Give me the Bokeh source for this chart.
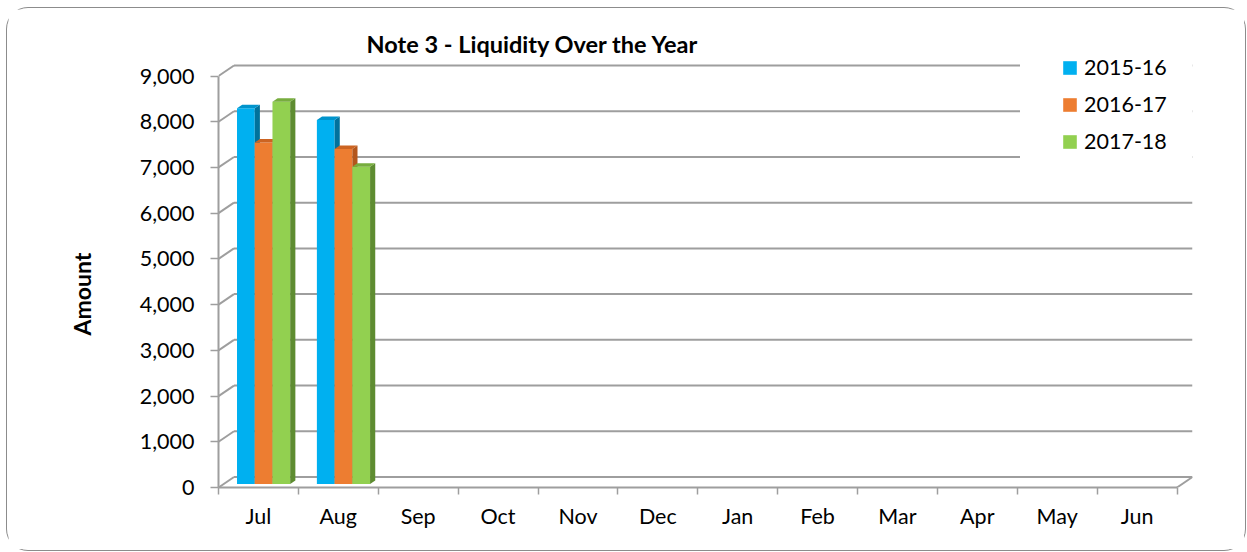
import math
from bokeh.plotting import figure
from bokeh.models import (Range1d, FixedTicker, NumeralTickFormatter, Legend,
                          LegendItem, Title, Label)
from bokeh.embed import file_html
from bokeh.resources import INLINE

# ---------------- data ----------------
months = ["Jul", "Aug", "Sep", "Oct", "Nov", "Dec",
          "Jan", "Feb", "Mar", "Apr", "May", "Jun"]
series_names = ["2015-16", "2016-17", "2017-18"]
fy_2015_16 = [8220, 7960]
fy_2016_17 = [7470, 7330]
fy_2017_18 = [8360, 6940]
y_ticks = [0, 1000, 2000, 3000, 4000, 5000, 6000, 7000, 8000, 9000]

title_text = "Note 3 - Liquidity Over the Year"
y_title = "Amount"

# ---------------- style ----------------
front_colors = ["#00B0F0", "#ED7D31", "#92D050"]
side_colors = ["#00729C", "#B3561C", "#5E8C31"]
top_colors = ["#0094CC", "#CC6422", "#77AD3E"]
GRID = "#9E9E9E"
FONT = "Lato"

DEPTH_X = 0.194      # 3-D depth of the back wall, category units
DEPTH_Y = 230        # 3-D depth of the back wall, value units
BAR_W = 0.222
N = len(months)
X_END = N + DEPTH_X
Y_END = 10346        # room above the wall for title and legend
TITLE_POS = (1.853, 9690)

p = figure(width=1236, height=540, title=None,
           x_range=Range1d(0, X_END), y_range=Range1d(0, Y_END),
           output_backend="svg", toolbar_location=None,
           min_border_left=210, min_border_right=52,
           min_border_top=5, min_border_bottom=62)
p.background_fill_color = "white"
p.border_fill_color = "white"
p.outline_line_color = None
p.xgrid.visible = False
p.ygrid.visible = False
p.styles = {"margin-left": "8px", "margin-top": "9px",
            "outline": "1.5px solid #8c8c8c", "outline-offset": "1.5px",
            "border-radius": "20px"}

# ---------------- back wall / floor ----------------
gx0, gy0, gx1, gy1 = [], [], [], []
for v in y_ticks:
    # gridline on the back wall
    gx0.append(DEPTH_X); gy0.append(v + DEPTH_Y)
    gx1.append(X_END); gy1.append(v + DEPTH_Y)
    # diagonal from the front axis to the back wall
    gx0.append(0); gy0.append(v)
    gx1.append(DEPTH_X); gy1.append(v + DEPTH_Y)
# right floor edge
gx0.append(N); gy0.append(0)
gx1.append(X_END); gy1.append(DEPTH_Y)
p.segment(x0=gx0, y0=gy0, x1=gx1, y1=gy1, line_color=GRID, line_width=2)

# ---------------- bars ----------------
all_series = [fy_2015_16, fy_2016_17, fy_2017_18]
dx = DEPTH_X / 3.0
dy = DEPTH_Y / 3.0
legend_items = []
for k, vals in enumerate(all_series):
    xc = [i + 0.5 + dx + (k - 1) * BAR_W for i in range(len(vals))]
    bottoms = [dy for _ in vals]
    tops = [v + dy for v in vals]
    r = p.vbar(x=xc, width=BAR_W, bottom=bottoms, top=tops,
               fill_color=front_colors[k], line_color=None)
    legend_items.append(LegendItem(label=series_names[k], renderers=[r]))
    sxs, sys, txs, tys = [], [], [], []
    for x, b, t in zip(xc, bottoms, tops):
        left = x - BAR_W / 2
        right = x + BAR_W / 2
        sxs.append([right, right + dx, right + dx, right])
        sys.append([b, b + dy, t + dy, t])
        txs.append([left, left + dx, right + dx, right])
        tys.append([t, t + dy, t + dy, t])
    p.patches(xs=sxs, ys=sys, fill_color=side_colors[k], line_color=None)
    p.patches(xs=txs, ys=tys, fill_color=top_colors[k], line_color=None)

# ---------------- axes ----------------
xa = p.xaxis[0]
xa.ticker = FixedTicker(ticks=[i + 0.5 for i in range(N)],
                        minor_ticks=list(range(N + 1)))
xa.major_label_overrides = {i + 0.5: m for i, m in enumerate(months)}
xa.bounds = (0, N)
xa.axis_line_color = GRID
xa.axis_line_width = 2
xa.major_tick_out = 0
xa.major_tick_in = 0
xa.minor_tick_out = 7
xa.minor_tick_in = 0
xa.minor_tick_line_color = GRID
xa.minor_tick_line_width = 1.5
xa.major_label_standoff = 8
xa.major_label_text_font = FONT
xa.major_label_text_font_size = "21.5px"
xa.major_label_text_color = "#000000"

ya = p.yaxis[0]
ya.ticker = FixedTicker(ticks=y_ticks)
ya.formatter = NumeralTickFormatter(format="0,0")
ya.bounds = (0, y_ticks[-1])
ya.axis_line_color = GRID
ya.axis_line_width = 2
ya.major_tick_out = 8
ya.major_tick_in = 0
ya.major_tick_line_color = GRID
ya.major_tick_line_width = 1.5
ya.minor_tick_out = 0
ya.minor_tick_in = 0
ya.major_label_standoff = 16
ya.major_label_text_font = FONT
ya.major_label_text_font_size = "21.5px"
ya.major_label_text_color = "#000000"

# ---------------- legend ----------------
legend = Legend(items=legend_items, location=(802, 292), padding=40,
                spacing=11, glyph_width=17, glyph_height=17,
                label_standoff=6, label_height=26,
                background_fill_color="white", background_fill_alpha=1.0,
                border_line_color="white", border_line_width=1,
                label_text_font=FONT,
                label_text_font_size="21.5px", label_text_color="#000000")
p.add_layout(legend)

# ---------------- titles ----------------
p.add_layout(Label(x=TITLE_POS[0], y=TITLE_POS[1], text=title_text,
                   text_align="left", text_baseline="middle",
                   text_font=FONT, text_font_style="bold",
                   text_font_size="23.5px", text_color="#000000"))
p.add_layout(Title(text=y_title, align="left", offset=152, standoff=78,
                   vertical_align="top",
                   text_font=FONT, text_font_style="bold",
                   text_font_size="23px", text_color="#000000"), "left")

open("out.html", "w").write(file_html(p, INLINE))
